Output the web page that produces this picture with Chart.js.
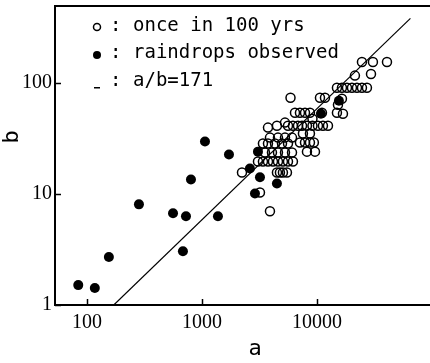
<!DOCTYPE html>
<html>
<head>
<meta charset="utf-8">
<script src="https://cdn.jsdelivr.net/npm/chart.js@4/dist/chart.umd.min.js"></script>
<style>
  html, body { margin: 0; padding: 0; background: #fff; overflow: hidden; }
  #wrap { width: 430px; height: 363px; }
</style>
</head>
<body>
<div id="wrap"><canvas id="c" width="430" height="363"></canvas></div>
<script>
// once in 100 yrs (open circles)
const onceA = [24620, 30680, 40640, 21390, 29510,
  14920, 16490, 18240, 20150, 22280, 24620, 27210,
  5888, 10620, 11740, 16490, 15230, 14920, 16830,
  6440, 7112, 7870, 8690, 11050, 9140, 5272,
  4487, 5598, 6182, 6839, 7413, 8184, 9140, 10200, 11270, 12470,
  3750, 7551, 8690, 3902, 4580, 5272, 6067,
  7112, 7870, 8690, 9400, 3390, 3750, 4315, 4964, 5598,
  8184, 9614, 3531, 4061, 4580, 5272, 6067,
  3069, 3390, 3750, 4142, 4580, 5058, 5598, 6182,
  2228, 4487, 4764, 5058, 5483, 3194, 3902];
const onceB = [154, 154, 154, 116, 120,
  90.2, 90.2, 90.2, 90.2, 90.2, 90.2, 90.2,
  73.3, 73.3, 73.3, 71.9, 63.5, 53.8, 52.7,
  53.8, 53.8, 53.8, 53.8, 53.8, 47.5, 43.8,
  41.1, 41.1, 41.1, 41.1, 41.1, 41.1, 41.1, 41.1, 41.1, 41.1,
  39.5, 34.9, 34.9, 32.1, 32.1, 32.1, 32.1,
  29.0, 29.0, 29.0, 29.0, 28.4, 28.4, 28.4, 28.4, 28.4,
  24.0, 24.0, 23.6, 23.6, 23.6, 23.6, 23.6,
  19.6, 19.6, 19.6, 19.6, 19.6, 19.6, 19.6, 19.6,
  15.6, 15.6, 15.6, 15.6, 15.6, 10.3, 6.97];

// raindrops observed (filled circles)
const rainA = [84, 117, 155, 283, 560, 726, 683, 802, 1062, 1717, 1377,
  2612, 3069, 3194, 2890, 4487, 15520, 10830];
const rainB = [1.51, 1.42, 2.7, 8.05, 6.7, 6.3, 3.05, 13.5, 29.6, 22.6, 6.3,
  16.9, 24, 14.1, 10.1, 12.4, 69, 52.7];

// a/b = 171
const lineA = [171, 65000];
const lineB = [1, 380];

const xTicks = [100, 1000, 10000];
const yTicks = [1, 10, 100];
const labels = ['once in 100 yrs', 'raindrops observed', 'a/b=171'];

const pts = (xs, ys) => xs.map((x, i) => ({x: x, y: ys[i]}));

const monoFont = '"DejaVu Sans Mono", monospace';

const noPad = s => {
  s.paddingTop = 0;
  s.paddingBottom = 0;
  s.paddingLeft = 0;
  s.paddingRight = 0;
};

const decor = {
  id: 'decor',
  afterDraw(chart) {
    const {ctx, chartArea: area, scales} = chart;
    ctx.save();
    ctx.strokeStyle = '#000';
    ctx.lineWidth = 2;
    // frame: top, left, bottom (open on the right)
    ctx.beginPath();
    ctx.moveTo(chart.width, area.top);
    ctx.lineTo(area.left, area.top);
    ctx.lineTo(area.left, area.bottom);
    ctx.lineTo(chart.width, area.bottom);
    ctx.stroke();
    // inward major ticks
    ctx.lineWidth = 1.5;
    for (const v of xTicks) {
      const px = Math.round(scales.x.getPixelForValue(v)) + 0.5;
      ctx.beginPath();
      ctx.moveTo(px, area.bottom);
      ctx.lineTo(px, area.bottom - 6);
      ctx.stroke();
    }
    for (const v of yTicks) {
      const py = Math.round(scales.y.getPixelForValue(v)) + 0.5;
      ctx.beginPath();
      ctx.moveTo(area.left, py);
      ctx.lineTo(area.left + 6, py);
      ctx.stroke();
    }

    // legend
    const ds = chart.data.datasets;
    const rows = [26, 53, 81];
    ctx.fillStyle = '#000';
    ctx.font = '19px ' + monoFont;
    ctx.textBaseline = 'middle';
    ctx.textAlign = 'left';
    rows.forEach((y, i) => {
      ctx.lineWidth = 1.5;
      if (i === 0) {
        ctx.beginPath();
        ctx.arc(97, y + 1, 3.5, 0, Math.PI * 2);
        ctx.stroke();
      } else if (i === 1) {
        ctx.beginPath();
        ctx.arc(97, y + 2, 4, 0, Math.PI * 2);
        ctx.fill();
      } else {
        ctx.fillRect(94, y + 6, 6, 1.5);
      }
      ctx.fillText(':', 110, y);
      ctx.fillText(ds[i].label, 133, y);
    });

    // axis titles
    ctx.font = '22px ' + monoFont;
    ctx.textAlign = 'center';
    ctx.fillText('a', 255, 349);
    ctx.translate(12, 137);
    ctx.rotate(-Math.PI / 2);
    ctx.fillText('b', 0, 0);
    ctx.restore();
  }
};

new Chart(document.getElementById('c'), {
  type: 'scatter',
  data: {
    datasets: [
      {
        label: labels[0],
        data: pts(onceA, onceB),
        pointRadius: 4.5,
        pointBorderWidth: 1.5,
        pointBorderColor: '#000',
        pointBackgroundColor: 'rgba(0,0,0,0)',
        order: 2
      },
      {
        label: labels[1],
        data: pts(rainA, rainB),
        pointRadius: 5,
        pointBorderWidth: 0,
        pointBackgroundColor: '#000',
        pointBorderColor: '#000',
        order: 1
      },
      {
        label: labels[2],
        data: pts(lineA, lineB),
        showLine: true,
        pointRadius: 0,
        borderColor: '#000',
        borderWidth: 1.2,
        order: 3
      }
    ]
  },
  options: {
    responsive: false,
    animation: false,
    devicePixelRatio: 1,
    layout: {padding: {top: 5, right: 0, left: 0, bottom: 0}},
    plugins: {legend: {display: false}, tooltip: {enabled: false}},
    scales: {
      x: {
        type: 'logarithmic',
        min: 52.7,
        max: 85300,
        grid: {display: false, drawTicks: false},
        border: {display: false},
        afterBuildTicks: s => { s.ticks = xTicks.map(v => ({value: v})); },
        afterFit: s => { s.height = 58; noPad(s); },
        ticks: {
          color: '#000',
          padding: 6,
          maxRotation: 0,
          autoSkip: false,
          font: {family: '"Liberation Serif", serif', size: 20},
          callback: v => String(v)
        }
      },
      y: {
        type: 'logarithmic',
        min: 1,
        max: 491,
        grid: {display: false, drawTicks: false},
        border: {display: false},
        afterBuildTicks: s => { s.ticks = yTicks.map(v => ({value: v})); },
        afterFit: s => { s.width = 55; noPad(s); },
        ticks: {
          color: '#000',
          padding: 3,
          autoSkip: false,
          font: {family: '"Liberation Serif", serif', size: 20},
          callback: v => String(v)
        }
      }
    }
  },
  plugins: [decor]
});
</script>
</body>
</html>
